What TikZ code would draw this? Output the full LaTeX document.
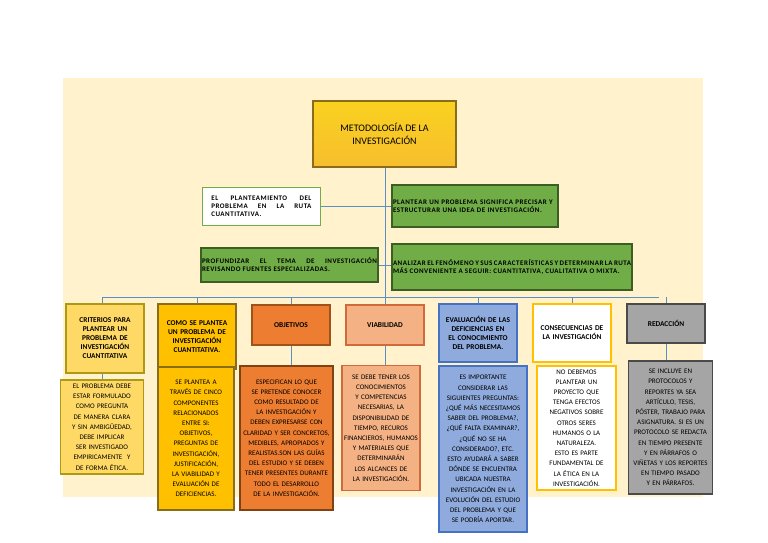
\documentclass[tikz,border=0pt]{standalone}
\usepackage{fontspec}
\setmainfont{Carlito}
\hyphenpenalty=10000 \exhyphenpenalty=10000
\begin{document}
\begin{tikzpicture}[x=1pt,y=-1pt,
  bx/.style={draw, line width=1.4pt, align=center, inner sep=1pt, font=\fontsize{7}{10.2}\selectfont},
  hd/.style={bx, font=\bfseries\fontsize{7.4}{9}\selectfont},
  sd/.style={hd, font=\bfseries\fontsize{7}{8}\selectfont\addfontfeatures{LetterSpace=7}},
  ln/.style={draw=lineblue, line width=0.8pt}]
\definecolor{cream}{HTML}{FFF2CC}
\definecolor{lineblue}{HTML}{5B8FC4}
\definecolor{gold}{HTML}{F7BE2E}
\definecolor{goldd}{HTML}{8A6D1A}
\definecolor{ly}{HTML}{FFD966}
\definecolor{yc}{HTML}{FFC000}
\definecolor{org}{HTML}{ED7D31}
\definecolor{orgd}{HTML}{A0521A}
\definecolor{sal}{HTML}{F4B183}
\definecolor{sald}{HTML}{D06A3A}
\definecolor{blu}{HTML}{8FAADC}
\definecolor{blud}{HTML}{4472C4}
\definecolor{grn}{HTML}{70AD47}
\definecolor{grnd}{HTML}{3B5E22}
\definecolor{gry}{HTML}{A5A5A5}
\definecolor{gryd}{HTML}{4A4A4A}
\useasboundingbox (0,0) rectangle (768,543);
\fill[white] (0,0) rectangle (768,543);
\fill[cream] (63,78) rectangle (703,497);
% lines
\coordinate (hL) at (102,297); \coordinate (hR) at (659,297);
\draw[ln] (385,167) -- (385,297);
\draw[ln] (hL) -- (hR);
\draw[ln] (320,206) -- (392,206);
\draw[ln] (378,265) -- (392,265);
\foreach \x in {102,197,291,385,478,572,666} \draw[ln] (\x,297) -- (\x,304);
\foreach \x/\a/\b in {102/373/380,291/345/366,385/345/366,666/343/361} \draw[ln] (\x,\a) -- (\x,\b);
% title
\node[bx, draw=goldd, top color=gold!70!yellow, bottom color=gold, minimum width=143, minimum height=66, font=\fontsize{10}{13}\selectfont] (t) at (384.5,134) {METODOLOGÍA DE LA\\INVESTIGACIÓN};
% side boxes
\node[sd, fill=white, draw=grn, line width=0.8pt, minimum width=118, minimum height=38, anchor=west, text width=100, align=justify] (a) at (202,206) {EL PLANTEAMIENTO DEL PROBLEMA EN LA RUTA CUANTITATIVA.};
\node[sd, fill=grn, draw=grnd, minimum width=166, minimum height=42, text width=164, align=left] (b) at (475,206) {PLANTEAR UN PROBLEMA SIGNIFICA PRECISAR Y ESTRUCTURAR UNA IDEA DE INVESTIGACIÓN.};
\node[sd, fill=grn, draw=grnd, minimum width=177, minimum height=34, text width=175, align=justify] (c) at (289.5,265) {PROFUNDIZAR EL TEMA DE INVESTIGACIÓN REVISANDO FUENTES ESPECIALIZADAS.};
\node[sd, fill=grn, draw=grnd, minimum width=240, minimum height=46, text width=238, align=justify] (d) at (512,267) {ANALIZAR EL FENÓMENO Y SUS CARACTERÍSTICAS Y DETERMINAR LA RUTA MÁS CONVENIENTE A SEGUIR: CUANTITATIVA, CUALITATIVA O MIXTA.};
% top row
\node[hd, fill=ly, draw=goldd!70!yellow, minimum width=78, minimum height=69, text width=66] (h1) at (105,338.5) {CRITERIOS PARA PLANTEAR UN PROBLEMA DE INVESTIGACIÓN CUANTITATIVA};
\node[hd, fill=yc, draw=goldd, minimum width=78, minimum height=65, text width=76] (h2) at (197,336.5) {COMO SE PLANTEA UN PROBLEMA DE INVESTIGACIÓN CUANTITATIVA.};
\node[hd, fill=org, draw=orgd, minimum width=78, minimum height=40] (h3) at (291,325) {OBJETIVOS};
\node[hd, fill=sal, draw=sald, minimum width=78, minimum height=40] (h4) at (385,325) {VIABILIDAD};
\node[hd, fill=blu, draw=blud, minimum width=78, minimum height=58, text width=70] (h5) at (478,333) {EVALUACIÓN DE LAS DEFICIENCIAS EN EL CONOCIMIENTO DEL PROBLEMA.};
\node[hd, fill=white, draw=yc, minimum width=78, minimum height=58, text width=74] (h6) at (572,333) {CONSECUENCIAS DE LA INVESTIGACIÓN};
\node[hd, fill=gry, draw=gryd, minimum width=78, minimum height=39] (h7) at (666,323.5) {REDACCIÓN};
% bottom row
\node[bx, fill=ly, draw=goldd!70!yellow, minimum width=83, minimum height=94, text width=78] (b1) at (102,427) {EL PROBLEMA DEBE ESTAR FORMULADO COMO PREGUNTA DE MANERA CLARA Y SIN AMBIGÜEDAD, DEBE IMPLICAR SER INVESTIGADO EMPIRICAMENTE\ \ Y DE FORMA ÉTICA.};
\node[bx, fill=yc, draw=goldd, minimum width=76, minimum height=143, text width=60] (b2) at (196,438.5) {SE PLANTEA A TRAVÉS DE CINCO COMPONENTES RELACIONADOS ENTRE SI: OBJETIVOS, PREGUNTAS DE INVESTIGACIÓN, JUSTIFICACIÓN, LA VIABILIDAD Y EVALUACIÓN DE DEFICIENCIAS.};
\node[bx, fill=org, draw=orgd!80!black, minimum width=93, minimum height=144, text width=88] (b3) at (286.5,438) {ESPECIFICAN LO QUE SE PRETENDE CONOCER COMO RESULTADO DE LA INVESTIGACIÓN Y DEBEN EXPRESARSE CON CLARIDAD Y SER CONCRETOS, MEDIBLES, APROPIADOS Y REALISTAS.SON LAS GUÍAS DEL ESTUDIO Y SE DEBEN TENER PRESENTES DURANTE TODO EL DESARROLLO DE LA INVESTIGACIÓN.};
\node[bx, fill=sal, draw=sald, minimum width=78, minimum height=125, text width=74] (b4) at (381,428) {SE DEBE TENER LOS CONOCIMIENTOS Y COMPETENCIAS NECESARIAS, LA DISPONIBILIDAD DE TIEMPO, RECUROS FINANCIEROS, HUMANOS Y MATERIALES QUE DETERMINARÁN LOS ALCANCES DE LA INVESTIGACIÓN.};
\node[bx, fill=blu, draw=blud, minimum width=88, minimum height=166, text width=80] (b5) at (483,449) {ES IMPORTANTE CONSIDERAR LAS SIGUIENTES PREGUNTAS: ¿QUÉ MÁS NECESITAMOS SABER DEL PROBLEMA?, ¿QUÉ FALTA EXAMINAR?, ¿QUÉ NO SE HA CONSIDERADO?, ETC. ESTO AYUDARÁ A SABER DÓNDE SE ENCUENTRA UBICADA NUESTRA INVESTIGACIÓN EN LA EVOLUCIÓN DEL ESTUDIO DEL PROBLEMA Y QUE SE PODRÍA APORTAR.};
\node[bx, fill=white, draw=yc, minimum width=79, minimum height=124, text width=64] (b6) at (576.5,428) {NO DEBEMOS PLANTEAR UN PROYECTO QUE TENGA EFECTOS NEGATIVOS SOBRE OTROS SERES HUMANOS O LA NATURALEZA. ESTO ES PARTE FUNDAMENTAL DE LA ÉTICA EN LA INVESTIGACIÓN.};
\node[bx, fill=gry, draw=gryd, minimum width=84, minimum height=133, text width=76] (b7) at (670.5,427.5) {SE INCLUYE EN PROTOCOLOS Y REPORTES YA SEA ARTÍCULO, TESIS, PÓSTER, TRABAJO PARA ASIGNATURA. SI ES UN PROTOCOLO SE REDACTA EN TIEMPO PRESENTE Y EN PÁRRAFOS O VIÑETAS Y LOS REPORTES EN TIEMPO PASADO Y EN PÁRRAFOS.};
\end{tikzpicture}
\end{document}
